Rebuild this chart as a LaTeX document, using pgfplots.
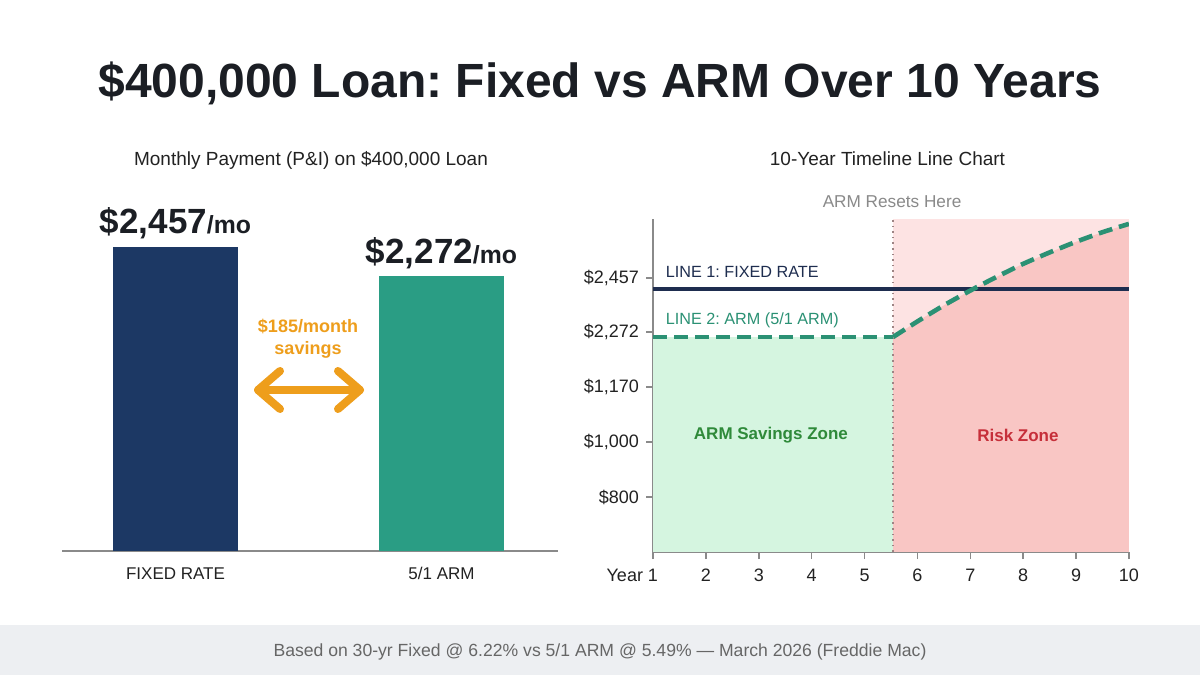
\documentclass[border=0pt]{standalone}
\usepackage{pgfplots}
\pgfplotsset{compat=1.18}
\usepackage{fontspec}
\setmainfont{Liberation Sans}
\frenchspacing
\definecolor{titlec}{HTML}{1B1E24}
\definecolor{textc}{HTML}{222222}
\definecolor{fixedbar}{HTML}{1C3864}
\definecolor{armbar}{HTML}{2A9D84}
\definecolor{fixedline}{HTML}{1E2D4F}
\definecolor{armline}{HTML}{2B9174}
\definecolor{greenfill}{HTML}{D5F5E0}
\definecolor{pinklight}{HTML}{FDE3E3}
\definecolor{salmon}{HTML}{F9C6C4}
\definecolor{greentext}{HTML}{2F8A3A}
\definecolor{redtext}{HTML}{C62F3A}
\definecolor{orangec}{HTML}{EE9E1C}
\definecolor{axisgray}{HTML}{8A8A8A}
\definecolor{lightgraytext}{HTML}{8A8A8A}
\definecolor{footbg}{HTML}{EDEFF2}
\definecolor{foottext}{HTML}{666666}
\definecolor{dotc}{HTML}{9E8484}
\pgfplotstableread{
x y
5.54 2272
6.0 2332
6.5 2394
7.0 2451
7.5 2504
8.0 2554
8.5 2598
9.0 2639
9.5 2676
10.0 2708
}\armreset
\begin{document}
\begin{tikzpicture}
\path[use as bounding box] (0,0) rectangle (600pt,337.5pt);
\fill[white] (0,0) rectangle (600pt,337.5pt);
\fill[footbg] (0,0) rectangle (600pt,25pt);
\node[anchor=base, text=titlec, font=\fontsize{24}{28}\selectfont\bfseries] at (300pt,288.5pt) {\$400,000 Loan: Fixed vs ARM Over 10 Years};
\node[anchor=base, text=textc, font=\fontsize{9.5}{11}\selectfont] at (155.5pt,254.5pt) {Monthly Payment (P\&I) on \$400,000 Loan};
\node[anchor=base, text=textc, font=\fontsize{9.5}{11}\selectfont] at (443.75pt,254.5pt) {10-Year Timeline Line Chart};
\node[text=foottext, font=\fontsize{8.8}{10}\selectfont] at (300pt,11.5pt) {Based on 30-yr Fixed @ 6.22\% vs 5/1 ARM @ 5.49\% — March 2026 (Freddie Mac)};

% left bar chart
\begin{axis}[at={(31pt,62pt)}, anchor=south west, scale only axis,
  width=248pt, height=178.9pt,
  xmin=-0.4267, xmax=1.438, ymin=520, ymax=2800,
  axis x line*=bottom, axis y line=none,
  x axis line style={draw=axisgray, line width=0.75pt, -},
  xtick={0,1}, xticklabels={FIXED RATE,5/1 ARM},
  xtick style={draw=none},
  xticklabel style={font=\fontsize{8.5}{10}\selectfont, text=textc, yshift=-0.5pt},
  ytick=\empty,
  ybar, bar width=62.5pt, bar shift=0pt,
  clip mode=individual]
\addplot[fill=fixedbar, draw=none] coordinates {(0,2457)};
\addplot[fill=armbar, draw=none] coordinates {(1,2272)};
\node[anchor=base, yshift=7pt, text=titlec, inner sep=0pt] at (axis cs:0,2457) {\fontsize{17.5}{20}\selectfont\bfseries \$2,457\fontsize{12.4}{14}\selectfont/mo};
\node[anchor=base, yshift=6.5pt, text=titlec, inner sep=0pt] at (axis cs:1,2272) {\fontsize{17.5}{20}\selectfont\bfseries \$2,272\fontsize{12.4}{14}\selectfont/mo};
\end{axis}

% savings annotation
\node[align=center, text=orangec, font=\fontsize{9}{11}\selectfont\bfseries] at (154pt,168pt) {\$185/month\\savings};
\draw[orangec, line width=4pt, line cap=round, line join=round] (129pt,142.5pt) -- (180pt,142.5pt);
\draw[orangec, line width=4pt, line cap=round, line join=round] (140pt,152pt) -- (129pt,142.5pt) -- (140pt,133pt);
\draw[orangec, line width=4pt, line cap=round, line join=round] (169pt,152pt) -- (180pt,142.5pt) -- (169pt,133pt);

% right line chart
\begin{axis}[at={(326.5pt,61.5pt)}, anchor=south west, scale only axis,
  width=238pt, height=166.5pt,
  xmin=1, xmax=10, ymin=1443.4, ymax=2726.8,
  axis lines*=left,
  axis line style={draw=axisgray, line width=0.75pt, -},
  tick align=outside, major tick length=3.5pt,
  tick style={draw=axisgray, line width=0.75pt},
  xtick={1,2,3,4,5,6,7,8,9,10},
  xticklabels={\llap{Year }1,2,3,4,5,6,7,8,9,10},
  ytick={1655.3,1867.3,2079.3,2291.3,2499.4},
  yticklabels={\$800,{\$1,000},{\$1,170},{\$2,272},{\$2,457}},
  ticklabel style={font=\fontsize{9}{11}\selectfont, text=textc},
  xticklabel style={yshift=-1.5pt},
  clip mode=individual]
\addplot[fill=greenfill, draw=none] coordinates {(1,1443.4) (1,2272) (5.54,2272) (5.54,1443.4)} -- cycle;
\addplot[fill=pinklight, draw=none] coordinates {(5.54,1443.4) (5.54,2726.8) (10,2726.8) (10,1443.4)} -- cycle;
\addplot[fill=salmon, draw=none, smooth, tension=0.4] table[x=x,y=y] {\armreset} |- (axis cs:5.54,1443.4) -- cycle;
\addplot[dotc, line width=0.8pt, dotted] coordinates {(5.54,1443.4) (5.54,2726.8)};
\addplot[fixedline, line width=1.7pt] coordinates {(1,2457) (10,2457)};
\addplot[armline, line width=2.3pt, dash pattern=on 7pt off 3.5pt] coordinates {(1,2272) (5.54,2272)};
\addplot[armline, line width=2.3pt, dash pattern=on 7pt off 3.5pt, smooth, tension=0.4] table[x=x,y=y] {\armreset};
\node[anchor=west, text=fixedline, font=\fontsize{8.1}{10}\selectfont] at (axis cs:1.11,2522.5) {LINE 1: FIXED RATE};
\node[anchor=west, text=armline, font=\fontsize{8.1}{10}\selectfont] at (axis cs:1.11,2337.5) {LINE 2: ARM (5/1 ARM)};
\node[text=greentext, font=\fontsize{8.5}{10}\selectfont\bfseries] at (axis cs:3.23,1894.3) {ARM Savings Zone};
\node[text=redtext, font=\fontsize{8.5}{10}\selectfont\bfseries] at (axis cs:7.90,1894.3) {Risk Zone};
\node[text=lightgraytext, font=\fontsize{8.6}{10}\selectfont] at (axis cs:5.52,2792) {ARM Resets Here};
\end{axis}
\end{tikzpicture}
\end{document}
